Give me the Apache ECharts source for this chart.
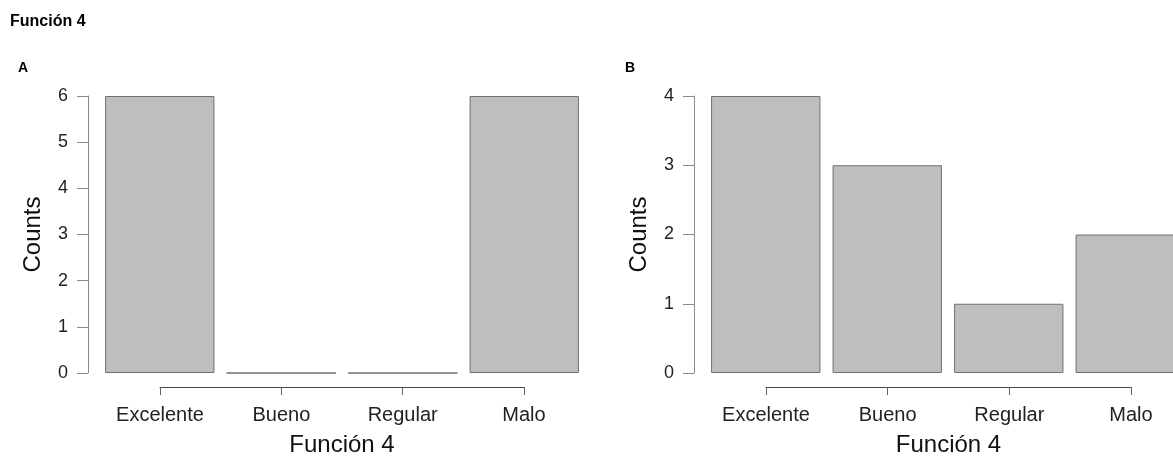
<!DOCTYPE html>
<html>
<head>
<meta charset="utf-8">
<script src="https://cdn.jsdelivr.net/npm/echarts@6/dist/echarts.min.js"></script>
<style>
  html, body { margin: 0; padding: 0; background: #ffffff; }
  #chart { width: 1173px; height: 459px; }
</style>
</head>
<body>
<div id="chart"></div>
<script>
// Response categories shared by both panels
const categories = ['Excelente', 'Bueno', 'Regular', 'Malo'];
// Counts per category, panel A and panel B
const countsA = [6, 0, 0, 6];
const countsB = [4, 3, 1, 2];
// y-axis ranges and steps
const yMaxA = 6, yStepA = 1;
const yMaxB = 4, yStepB = 1;

const FONT = '"Liberation Sans", Arial, sans-serif';
const BAR_FILL = '#bebebe';
const BAR_EDGE = '#707070';

function valueAxis(gridIndex, max, step) {
  return {
    type: 'value', gridIndex, min: 0, max, interval: step,
    offset: 11,
    name: 'Counts', nameLocation: 'middle', nameGap: 43,
    nameTextStyle: { fontFamily: FONT, fontSize: 24, color: '#111' },
    axisLine: { show: true, lineStyle: { color: '#8a8a8a', width: 1 } },
    axisTick: { show: true, length: 11, lineStyle: { color: '#8a8a8a' } },
    axisLabel: { margin: 20, fontFamily: FONT, fontSize: 18, color: '#222' },
    splitLine: { show: false }
  };
}

function barAxis(gridIndex) {
  return {
    type: 'category', gridIndex, data: categories, boundaryGap: true,
    axisLine: { show: false }, axisTick: { show: false }, axisLabel: { show: false }
  };
}

// Bracket-style axis running from the first to the last category centre
function bracketAxis(gridIndex) {
  return {
    type: 'category', gridIndex, data: categories, boundaryGap: false,
    position: 'bottom',
    name: 'Función 4', nameLocation: 'middle', nameGap: 46,
    nameTextStyle: { fontFamily: FONT, fontSize: 24, color: '#111' },
    axisLine: { show: true, lineStyle: { color: '#444', width: 1 } },
    axisTick: { show: true, length: 8, alignWithLabel: true, lineStyle: { color: '#666' } },
    axisLabel: { margin: 18, fontFamily: FONT, fontSize: 20, color: '#222', interval: 0 },
    splitLine: { show: false }
  };
}

function hiddenY(gridIndex) {
  return { type: 'value', gridIndex, show: false, min: 0, max: 1 };
}

function barSeries(axisIndex, values) {
  return {
    type: 'bar', xAxisIndex: axisIndex, yAxisIndex: axisIndex,
    data: values, barCategoryGap: '10%',
    itemStyle: { color: BAR_FILL, borderColor: BAR_EDGE, borderWidth: 1 },
    silent: true
  };
}

function grid(left, top, width, height) {
  return { left, top, width, height, containLabel: false, outerBoundsMode: 'none' };
}

const chart = echarts.init(document.getElementById('chart'), null, { renderer: 'canvas' });
chart.setOption({
  animation: false,
  backgroundColor: '#ffffff',
  title: [
    { text: 'Función 4', left: 5, top: 9,
      textStyle: { fontFamily: FONT, fontSize: 16, fontWeight: 'bold', color: '#000' } },
    { text: 'A', left: 13, top: 56,
      textStyle: { fontFamily: FONT, fontSize: 14, fontWeight: 'bold', color: '#000' } },
    { text: 'B', left: 620, top: 56,
      textStyle: { fontFamily: FONT, fontSize: 14, fontWeight: 'bold', color: '#000' } }
  ],
  grid: [
    grid(99, 96, 486, 277),
    grid(160, 386, 364, 1),
    grid(705, 96, 486, 277),
    grid(766, 386, 365, 1)
  ],
  xAxis: [barAxis(0), bracketAxis(1), barAxis(2), bracketAxis(3)],
  yAxis: [valueAxis(0, yMaxA, yStepA), hiddenY(1), valueAxis(2, yMaxB, yStepB), hiddenY(3)],
  series: [barSeries(0, countsA), barSeries(2, countsB)]
});
</script>
</body>
</html>
